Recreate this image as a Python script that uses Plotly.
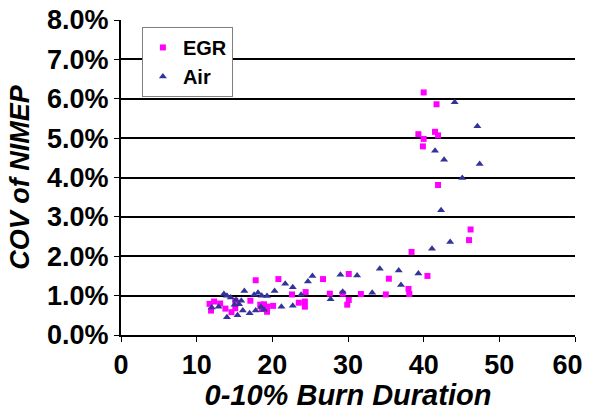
import plotly.graph_objects as go

# 0-10% burn duration (deg) vs COV of NIMEP (%)
egr_burn = [40.0, 41.7, 39.3, 41.5, 41.9, 40.0, 39.9, 41.9, 46.2, 46.0, 38.4, 40.5,
            30.1, 35.4, 38.0, 38.1, 35.0, 31.7, 29.3, 30.1, 29.9, 27.6,
            20.8, 22.6, 24.4, 26.7, 23.5, 24.3, 24.3, 20.1, 18.9, 19.3,
            17.8, 15.1, 17.1, 13.1, 12.3, 11.7, 11.9, 13.8, 14.6, 15.1,
            18.4, 18.6, 19.3, 19.3]
egr_cov = [6.16, 5.86, 5.10, 5.16, 5.07, 4.98, 4.79, 3.81, 2.68, 2.41, 2.11, 1.50,
           1.55, 1.43, 1.17, 1.04, 1.03, 1.04, 1.05, 0.89, 0.77, 1.05,
           1.42, 1.03, 1.09, 1.42, 0.82, 0.85, 0.72, 0.74, 0.78, 0.69,
           1.39, 0.87, 0.87, 0.80, 0.85, 0.79, 0.62, 0.67, 0.58, 0.68,
           0.77, 0.66, 0.72, 0.59]

air_burn = [44.1, 47.1, 41.5, 42.7, 47.4, 45.1, 42.3, 43.5, 41.1,
            29.0, 31.2, 34.2, 36.7, 37.0, 39.3, 33.2, 29.3, 27.7,
            21.7, 22.7, 20.3, 19.3, 23.8, 24.7, 25.3, 22.7, 21.2, 18.5,
            16.3, 13.6, 14.0, 14.5, 17.6, 18.1, 18.6, 15.2, 15.9, 15.6,
            15.0, 12.0, 12.9, 14.0, 15.4, 16.1, 17.0, 17.8, 18.9]
air_cov = [5.91, 5.30, 4.68, 4.45, 4.34, 3.99, 3.17, 2.36, 2.19,
           1.53, 1.51, 1.68, 1.64, 1.27, 1.56, 1.07, 1.10, 0.91,
           1.30, 1.21, 1.12, 0.99, 1.02, 1.36, 1.50, 0.74, 0.72, 0.71,
           1.12, 1.04, 1.00, 0.95, 1.02, 1.07, 1.00, 0.89, 0.87, 0.78,
           0.77, 0.70, 0.72, 0.45, 0.50, 0.62, 0.55, 0.62, 0.64]

x_ticks = [0, 10, 20, 30, 40, 50, 60]
# the last label is nudged left so it stays inside the page
x_tick_text = [f"<b>{v}</b>" if v < 60 else f"<b>{v}</b>&nbsp;&nbsp;" for v in x_ticks]
y_ticks = [0, 1, 2, 3, 4, 5, 6, 7, 8]
y_tick_text = [f"<b>{v:.1f}%</b>" for v in y_ticks]

FONT = "Liberation Sans, Arial, sans-serif"

fig = go.Figure()
fig.add_trace(go.Scatter(
    x=egr_burn, y=egr_cov, mode="markers", name="<b>EGR</b>",
    marker=dict(symbol="square", size=6, color="#FF00FF", line=dict(width=0)),
))
fig.add_trace(go.Scatter(
    x=air_burn, y=air_cov, mode="markers", name="<b>Air</b>",
    marker=dict(symbol="triangle-up", size=7, color="#333399", line=dict(width=0)),
))

fig.update_layout(
    width=590, height=411,
    margin=dict(l=121, r=15, t=20, b=76, autoexpand=False),
    paper_bgcolor="white", plot_bgcolor="white",
    font=dict(family=FONT, color="black"),
    showlegend=True,
    legend=dict(
        x=0.046, y=0.978, xanchor="left", yanchor="top",
        bgcolor="white", bordercolor="#808080", borderwidth=1,
        font=dict(family=FONT, size=20, color="black"),
        itemsizing="trace", tracegroupgap=0, itemwidth=30,
    ),
    xaxis=dict(
        range=[0, 60], tickvals=x_ticks, ticktext=x_tick_text,
        ticks="outside", ticklen=5, tickwidth=1, tickcolor="black",
        showline=True, linecolor="black", linewidth=2, mirror=False,
        showgrid=False, zeroline=False, automargin=False,
        ticklabeloverflow="allow",
        tickfont=dict(family=FONT, size=27, color="black"),
        title=dict(text="<b><i>0-10% Burn Duration</i></b>",
                   font=dict(family=FONT, size=29, color="black"), standoff=4),
    ),
    yaxis=dict(
        range=[0, 8], tickvals=y_ticks, ticktext=y_tick_text,
        ticks="outside", ticklen=5, tickwidth=1, tickcolor="black",
        showline=True, linecolor="black", linewidth=2,
        showgrid=True, gridcolor="black", gridwidth=2, zeroline=False,
        automargin=False, ticklabeloverflow="allow",
        tickfont=dict(family=FONT, size=27, color="black"),
        title=dict(text="<b><i>COV of NIMEP</i></b>",
                   font=dict(family=FONT, size=27, color="black"), standoff=10),
    ),
)

fig.write_html("out.html")
